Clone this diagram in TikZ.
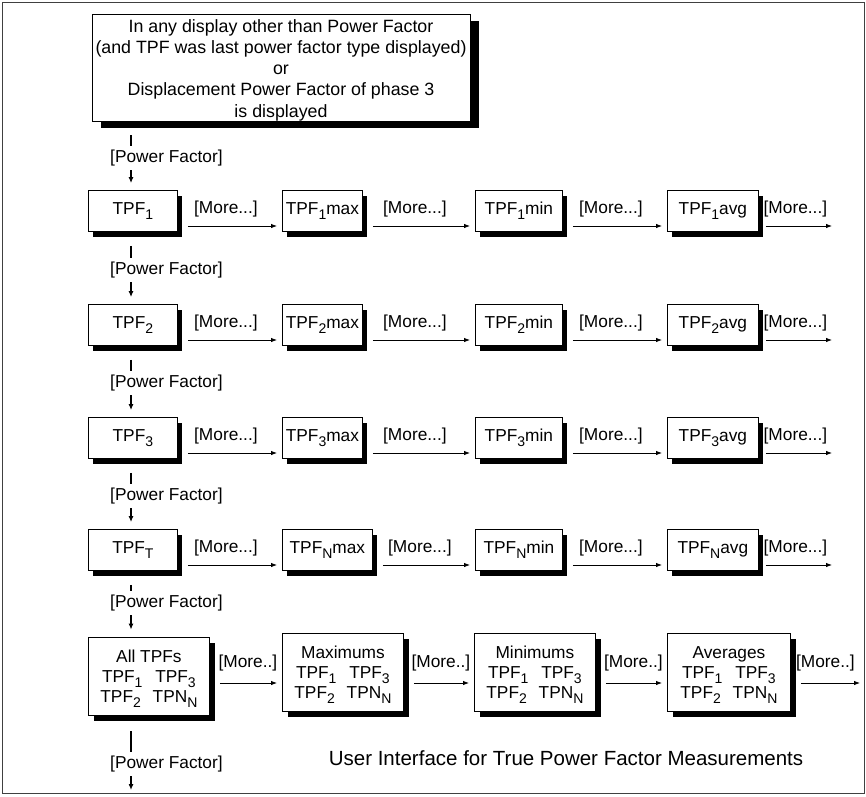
\documentclass[tikz,border=0pt]{standalone}
\usepackage{fontspec}
\setmainfont{Liberation Sans}
\usetikzlibrary{arrows.meta,shadows}
\newcommand{\tsub}[1]{\raisebox{-5pt}{\fontsize{14}{14}\selectfont #1}}
\newcommand{\framecol}{black!75}

\begin{document}
\begin{tikzpicture}[x=1pt, y=-1pt,
    boxbase/.style={draw, fill=white, line width=0.8pt, inner sep=2pt,
      font=\fontsize{17.3}{20}\selectfont},
    cell/.style={boxbase, anchor=west, minimum height=41pt,
      drop shadow={shadow xshift=5pt, shadow yshift=-5pt, fill=black, opacity=1}},
    group/.style={boxbase, anchor=west, align=center, minimum width=121pt,
      minimum height=78pt,
      drop shadow={shadow xshift=6pt, shadow yshift=-6pt, fill=black, opacity=1}},
    pftext/.style={anchor=west, inner sep=0pt, font=\fontsize{17.3}{20}\selectfont},
    moretext/.style={midway, inner sep=0pt, yshift=17pt, xshift=-4pt,
      font=\fontsize{17.3}{20}\selectfont},
    tick/.style={line width=2.4pt},
    down/.style={line width=1.4pt, -{Latex[length=6pt,width=5pt]}},
    more/.style={line width=0.8pt, -{Latex[length=6pt,width=4.5pt]}}]

  \useasboundingbox (0,0) rectangle (866,796);
  \draw[draw=\framecol, line width=0.8pt] (2,2) rectangle (864,793);

  \node[boxbase, inner sep=0pt, align=center, minimum width=378pt, minimum height=105pt,
    font=\fontsize{17.8}{21.3}\selectfont,
    drop shadow={shadow xshift=9pt, shadow yshift=-7pt, fill=black, opacity=1}]
    (top) at (281,67.5) {\rule{0pt}{18pt}In any display other than Power Factor\\
      (and TPF was last power factor type displayed)\\or\\
      Displacement Power Factor of phase 3\\is displayed};

  \foreach \r/\y/\s/\t/\w in {1/211/1/1/80, 2/325/2/2/80, 3/438/3/3/80, 4/550/T/N/90} {
    \node[cell, minimum width=89pt] (tpf\r) at (88,\y) {TPF\tsub{\s}};
    \node[cell, minimum width=\w pt] (max\r) at (282,\y) {TPF\tsub{\t}max};
    \node[cell, minimum width=87pt] (min\r) at (475,\y) {TPF\tsub{\t}min};
    \node[cell, minimum width=91pt] (avg\r) at (667,\y) {TPF\tsub{\t}avg};
    \coordinate (out\r) at (832,\y+15);

    \draw[more, shorten <=10pt, shorten >=5pt] ([yshift=-15pt]tpf\r.east) -- ([yshift=-15pt]tpf\r.east -| max\r.west) node[moretext] {[More...]};
    \draw[more, shorten <=10pt, shorten >=5pt] ([yshift=-15pt]max\r.east) -- ([yshift=-15pt]max\r.east -| min\r.west) node[moretext] {[More...]};
    \draw[more, shorten <=10pt, shorten >=5pt] ([yshift=-15pt]min\r.east) -- ([yshift=-15pt]min\r.east -| avg\r.west) node[moretext] {[More...]};
    \draw[more, shorten <=7pt] ([yshift=-15pt]avg\r.east) -- (out\r) node[moretext, xshift=4pt] {[More...]};
  }

  \node[group] (all5) at (88,676) {\rule{0pt}{18pt}All TPFs\\TPF\tsub{1}\hspace{8pt} TPF\tsub{3}\\TPF\tsub{2}\hspace{7pt} TPN\tsub{N}};
  \node[group] (max5) at (282,672) {\rule{0pt}{18pt}Maximums\\TPF\tsub{1}\hspace{8pt} TPF\tsub{3}\\TPF\tsub{2}\hspace{7pt} TPN\tsub{N}};
  \node[group] (min5) at (474,672) {\rule{0pt}{18pt}Minimums\\TPF\tsub{1}\hspace{8pt} TPF\tsub{3}\\TPF\tsub{2}\hspace{7pt} TPN\tsub{N}};
  \node[group, minimum width=123pt] (avg5) at (667,672) {\rule{0pt}{18pt}Averages\\TPF\tsub{1}\hspace{8pt} TPF\tsub{3}\\TPF\tsub{2}\hspace{7pt} TPN\tsub{N}};
  \coordinate (out5) at (860,683);

  \draw[more, shorten <=10pt, shorten >=5pt] ([yshift=-7pt]all5.east) -- ([yshift=-7pt]all5.east -| max5.west) node[moretext, xshift=6pt, yshift=3pt] {[More..]};
  \draw[more, shorten <=10pt, shorten >=5pt] ([yshift=-11pt]max5.east) -- ([yshift=-11pt]max5.east -| min5.west) node[moretext, xshift=6pt, yshift=3pt] {[More..]};
  \draw[more, shorten <=10pt, shorten >=5pt] ([yshift=-11pt]min5.east) -- ([yshift=-11pt]min5.east -| avg5.west) node[moretext, xshift=6pt, yshift=3pt] {[More..]};
  \draw[more, shorten <=10pt] ([yshift=-11pt]avg5.east) -- (out5) node[moretext, xshift=4pt, yshift=3pt] {[More..]};

  \coordinate (spine) at (131,0);
  \node[pftext] (pf0) at (110,158) {[Power Factor]};
  \node[pftext] (pf1) at (110,270) {[Power Factor]};
  \node[pftext] (pf2) at (110,383) {[Power Factor]};
  \node[pftext] (pf3) at (110,496) {[Power Factor]};
  \node[pftext] (pf4) at (110,603) {[Power Factor]};
  \node[pftext] (pf5) at (110,764) {[Power Factor]};
  \coordinate (end) at (131,790);

  \foreach \a/\p/\b in {top/pf0/tpf1, tpf1/pf1/tpf2, tpf2/pf2/tpf3, tpf3/pf3/tpf4, tpf4/pf4/all5} {
    \draw[tick, shorten <=14pt, shorten >=4pt] (\a.south -| spine) -- (\p.north -| spine);
    \draw[down, shorten <=4pt, shorten >=7pt] (\p.south -| spine) -- (\b.north -| spine);
  }
  \draw[tick, shorten <=16pt, shorten >=4pt] (all5.south -| spine) -- (pf5.north -| spine);
  \draw[down, shorten <=4pt] (pf5.south -| spine) -- (end);

  \node[font=\fontsize{20.5}{24}\selectfont] (title) at (566,758) {User Interface for True Power Factor Measurements};

\end{tikzpicture}
\end{document}
